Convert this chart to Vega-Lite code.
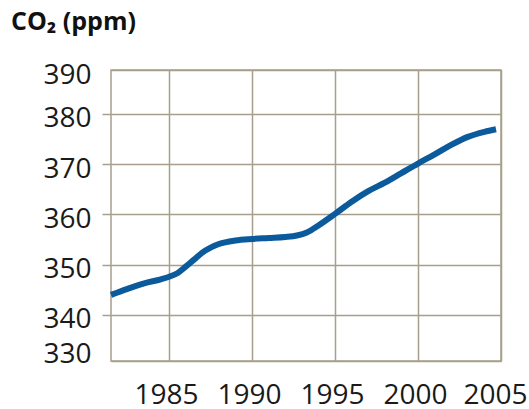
{
  "$schema": "https://vega.github.io/schema/vega-lite/v6.json",
  "autosize": {"type": "none"},
  "width": 390,
  "height": 291,
  "padding": {"left": 111, "top": 70, "right": 28, "bottom": 48},
  "background": "white",
  "title": {
    "text": "CO₂ (ppm)",
    "anchor": "start",
    "frame": "group",
    "orient": "top",
    "dx": -100,
    "offset": 6,
    "baseline": "alphabetic",
    "font": "Open Sans",
    "fontSize": 25,
    "fontWeight": "bold",
    "color": "#111111"
  },
  "config": {
    "view": {"stroke": "#a89e8c", "strokeWidth": 1.5},
    "axis": {
      "labelFont": "Open Sans",
      "labelFontSize": 28,
      "labelColor": "#1a1a1a",
      "gridColor": "#a89e8c",
      "gridOpacity": 1,
      "gridWidth": 1.5,
      "domain": false,
      "title": null
    }
  },
  "data": {
    "values": [
      {"year": 1981.5, "co2": 344.0},
      {"year": 1982.5, "co2": 345.2},
      {"year": 1983.5, "co2": 346.3},
      {"year": 1984.5, "co2": 347.1},
      {"year": 1985.0, "co2": 347.6},
      {"year": 1985.5, "co2": 348.3},
      {"year": 1986.0, "co2": 349.6},
      {"year": 1986.5, "co2": 351.0},
      {"year": 1987.0, "co2": 352.4},
      {"year": 1987.5, "co2": 353.4},
      {"year": 1988.0, "co2": 354.1},
      {"year": 1989.0, "co2": 354.8},
      {"year": 1990.0, "co2": 355.1},
      {"year": 1991.0, "co2": 355.3},
      {"year": 1992.0, "co2": 355.5},
      {"year": 1992.7, "co2": 355.8},
      {"year": 1993.3, "co2": 356.4},
      {"year": 1994.0, "co2": 357.8},
      {"year": 1995.0, "co2": 360.1},
      {"year": 1996.0, "co2": 362.5},
      {"year": 1997.0, "co2": 364.6},
      {"year": 1998.0, "co2": 366.3},
      {"year": 1999.0, "co2": 368.2},
      {"year": 2000.0, "co2": 370.1},
      {"year": 2001.0, "co2": 371.9},
      {"year": 2002.0, "co2": 373.8},
      {"year": 2003.0, "co2": 375.4},
      {"year": 2004.0, "co2": 376.4},
      {"year": 2004.7, "co2": 376.9}
    ]
  },
  "mark": {"type": "line", "color": "#0b5a9c", "strokeWidth": 6, "interpolate": "monotone", "strokeCap": "butt"},
  "encoding": {
    "x": {
      "field": "year",
      "type": "quantitative",
      "scale": {"domain": [1981.5, 2005], "nice": false, "zero": false},
      "axis": {
        "values": [1985, 1990, 1995, 2000, 2005],
        "format": "d",
        "ticks": false,
        "labelPadding": 20,
        "labelOffset": {"condition": {"test": "datum.value > 2004", "value": -6}, "value": -3},
        "labelFlush": false,
        "labelOverlap": false
      }
    },
    "y": {
      "field": "co2",
      "type": "quantitative",
      "scale": {"domain": [330.86, 388.68], "nice": false, "zero": false},
      "axis": {
        "values": [330.86, 340, 350, 360, 370, 380, 388.68],
        "labelExpr": "datum.value < 335 ? '330' : datum.value > 385 ? '390' : datum.label",
        "ticks": true,
        "tickSize": 9,
        "tickWidth": 1.5,
        "tickColor": "#a89e8c",
        "tickOpacity": {"condition": {"test": "datum.value < 335 || datum.value > 385", "value": 0}, "value": 1},
        "labelPadding": 11,
        "labelBaseline": "middle",
        "labelOffset": {"condition": [{"test": "datum.value > 385", "value": 5.4}, {"test": "datum.value < 335", "value": -6.3}], "value": 5},
        "labelFlush": false,
        "labelOverlap": false
      }
    }
  }
}
